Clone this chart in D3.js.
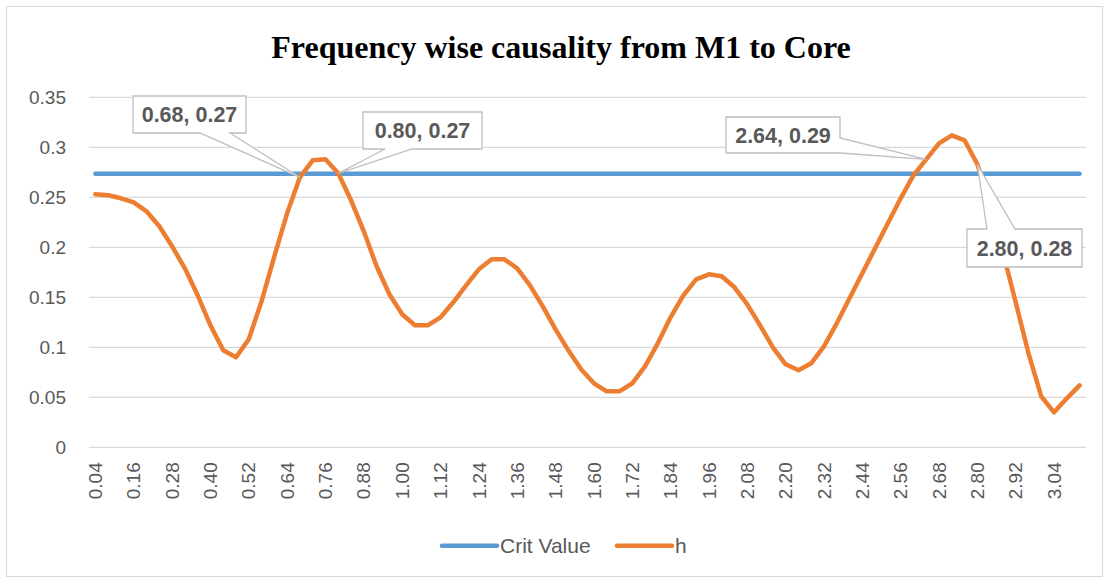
<!DOCTYPE html>
<html>
<head>
<meta charset="utf-8">
<script src="https://cdn.jsdelivr.net/npm/d3@7"></script>
<style>
  html, body { margin: 0; padding: 0; background: #fff; }
  svg { display: block; }
</style>
</head>
<body>
<svg id="chart" width="1107" height="579"></svg>
<script>
// ---------- DATA ----------
const categories = [
  "0.04","0.08","0.12","0.16","0.20","0.24","0.28","0.32","0.36","0.40",
  "0.44","0.48","0.52","0.56","0.60","0.64","0.68","0.72","0.76","0.80",
  "0.84","0.88","0.92","0.96","1.00","1.04","1.08","1.12","1.16","1.20",
  "1.24","1.28","1.32","1.36","1.40","1.44","1.48","1.52","1.56","1.60",
  "1.64","1.68","1.72","1.76","1.80","1.84","1.88","1.92","1.96","2.00",
  "2.04","2.08","2.12","2.16","2.20","2.24","2.28","2.32","2.36","2.40",
  "2.44","2.48","2.52","2.56","2.60","2.64","2.68","2.72","2.76","2.80",
  "2.84","2.88","2.92","2.96","3.00","3.04","3.08","3.12"
];
const hValues = [
  0.253,0.252,0.249,0.245,0.236,0.221,0.201,0.179,0.152,0.122,
  0.097,0.090,0.108,0.146,0.191,0.234,0.270,0.287,0.288,0.274,
  0.247,0.216,0.181,0.153,0.133,0.122,0.122,0.130,0.145,0.162,
  0.178,0.188,0.188,0.179,0.162,0.141,0.118,0.097,0.078,0.064,
  0.056,0.056,0.064,0.081,0.104,0.130,0.152,0.168,0.173,0.171,
  0.160,0.143,0.122,0.100,0.083,0.077,0.084,0.101,0.124,0.149,
  0.174,0.199,0.224,0.249,0.272,0.288,0.304,0.312,0.307,0.283,
  0.243,0.195,0.145,0.094,0.051,0.035,0.049,0.062
];
const critValue = 0.2735;
const critValues = categories.map(() => critValue);
const yTicks = [0, 0.05, 0.1, 0.15, 0.2, 0.25, 0.3, 0.35];
const seriesNames = ["Crit Value", "h"];
const annotatedCategories = ["0.68", "0.80", "2.64", "2.80"];
const annotationLabels = ["0.68, 0.27", "0.80, 0.27", "2.64, 0.29", "2.80, 0.28"];
const titleText = "Frequency wise causality from M1 to Core";

// ---------- LAYOUT / STYLE ----------
const W = 1107, H = 579;
const plot = { left: 89, right: 1086, top: 97.3, bottom: 447.3 };
const colors = { crit: "#5B9BD5", h: "#ED7D31", grid: "#d9d9d9", text: "#595959" };
const labelFont = "'Liberation Sans', Arial, sans-serif";
// callout boxes: [x, y, w, h, side, a, b]  (wedge base on side from a to b)
const calloutBoxes = [
  [133, 96, 113, 37, "bottom", 200, 230],
  [363, 112, 119, 37, "bottom", 385, 412],
  [726, 117, 114, 36, "right", 138, 153],
  [967, 229, 115, 38, "top", 987, 1015]
];

const svg = d3.select("#chart");

svg.append("rect")
  .attr("x", 6.5).attr("y", 6.5).attr("width", 1096).attr("height", 570)
  .attr("fill", "#fff").attr("stroke", colors.grid).attr("stroke-width", 1);

const x = d3.scaleBand().domain(categories).range([plot.left, plot.right]).padding(0);
const y = d3.scaleLinear().domain([0, 0.35]).range([plot.bottom, plot.top]);
const cx = c => x(c) + x.bandwidth() / 2;

// gridlines
svg.append("g").selectAll("line").data(yTicks).join("line")
  .attr("x1", plot.left).attr("x2", plot.right)
  .attr("y1", d => y(d)).attr("y2", d => y(d))
  .attr("stroke", colors.grid).attr("stroke-width", 1.3);

// y axis labels
const yAxis = d3.axisLeft(y).tickValues(yTicks).tickSize(0).tickPadding(0)
  .tickFormat(d => d === 0 ? "0" : String(+d.toFixed(2)));
const yg = svg.append("g").attr("transform", `translate(66,0)`).call(yAxis);
yg.select(".domain").remove();
yg.selectAll("text")
  .attr("fill", colors.text).style("font-family", labelFont).style("font-size", "19px")
  .attr("dy", "0.35em");

// x axis labels (every 3rd)
const xAxis = d3.axisBottom(x).tickValues(categories.filter((d, i) => i % 3 === 0))
  .tickSize(0).tickPadding(0);
const xg = svg.append("g").attr("transform", `translate(0,${plot.bottom})`).call(xAxis);
xg.select(".domain").remove();
xg.selectAll("text")
  .attr("fill", colors.text).style("font-family", labelFont).style("font-size", "19px")
  .attr("text-anchor", "end")
  .attr("transform", "rotate(-90)")
  .attr("x", -15).attr("y", 0).attr("dy", "0.35em");

// lines
const line = d3.line().x((d, i) => cx(categories[i])).y(d => y(d));
svg.append("path").datum(critValues)
  .attr("d", line).attr("fill", "none")
  .attr("stroke", colors.crit).attr("stroke-width", 4.5)
  .attr("stroke-linecap", "round").attr("stroke-linejoin", "round");
svg.append("path").datum(hValues)
  .attr("d", line).attr("fill", "none")
  .attr("stroke", colors.h).attr("stroke-width", 4.5)
  .attr("stroke-linecap", "round").attr("stroke-linejoin", "round");

// callouts
function calloutPath(b, tx, ty) {
  const [bx, by, bw, bh, side, a, c] = b;
  const r = bx + bw, btm = by + bh;
  let p;
  if (side === "bottom") {
    p = [[bx,by],[r,by],[r,btm],[c,btm],[tx,ty],[a,btm],[bx,btm]];
  } else if (side === "top") {
    p = [[bx,by],[a,by],[tx,ty],[c,by],[r,by],[r,btm],[bx,btm]];
  } else if (side === "right") {
    p = [[bx,by],[r,by],[r,a],[tx,ty],[r,c],[r,btm],[bx,btm]];
  } else {
    p = [[bx,by],[r,by],[r,btm],[bx,btm],[bx,c],[tx,ty],[bx,a]];
  }
  return "M" + p.map(q => q.join(",")).join("L") + "Z";
}
annotatedCategories.forEach((cat, k) => {
  const idx = categories.indexOf(cat);
  const tx = cx(cat), ty = y(hValues[idx]);
  const b = calloutBoxes[k];
  svg.append("path").attr("d", calloutPath(b, tx, ty))
    .attr("fill", "#fff").attr("stroke", "#bfbfbf").attr("stroke-width", 1.3);
  svg.append("text")
    .attr("x", b[0] + b[2] / 2).attr("y", b[1] + b[3] / 2).attr("dy", "0.36em")
    .attr("text-anchor", "middle")
    .attr("fill", colors.text).style("font-family", labelFont)
    .style("font-size", "21.5px").style("font-weight", "bold")
    .text(annotationLabels[k]);
});

// title
svg.append("text").attr("x", 561).attr("y", 58).attr("text-anchor", "middle")
  .style("font-family", "'Liberation Serif', 'Times New Roman', serif")
  .style("font-size", "32px").style("font-weight", "bold").attr("fill", "#000")
  .text(titleText);

// legend
const legendItems = [
  { name: seriesNames[0], color: colors.crit, x0: 442 },
  { name: seriesNames[1], color: colors.h, x0: 617 }
];
const lg = svg.append("g");
legendItems.forEach(it => {
  lg.append("line").attr("x1", it.x0).attr("x2", it.x0 + 55)
    .attr("y1", 545.7).attr("y2", 545.7)
    .attr("stroke", it.color).attr("stroke-width", 4.5).attr("stroke-linecap", "round");
  lg.append("text").attr("x", it.x0 + 58).attr("y", 545.7).attr("dy", "0.36em")
    .attr("fill", colors.text).style("font-family", labelFont).style("font-size", "21px")
    .text(it.name);
});
</script>
</body>
</html>
